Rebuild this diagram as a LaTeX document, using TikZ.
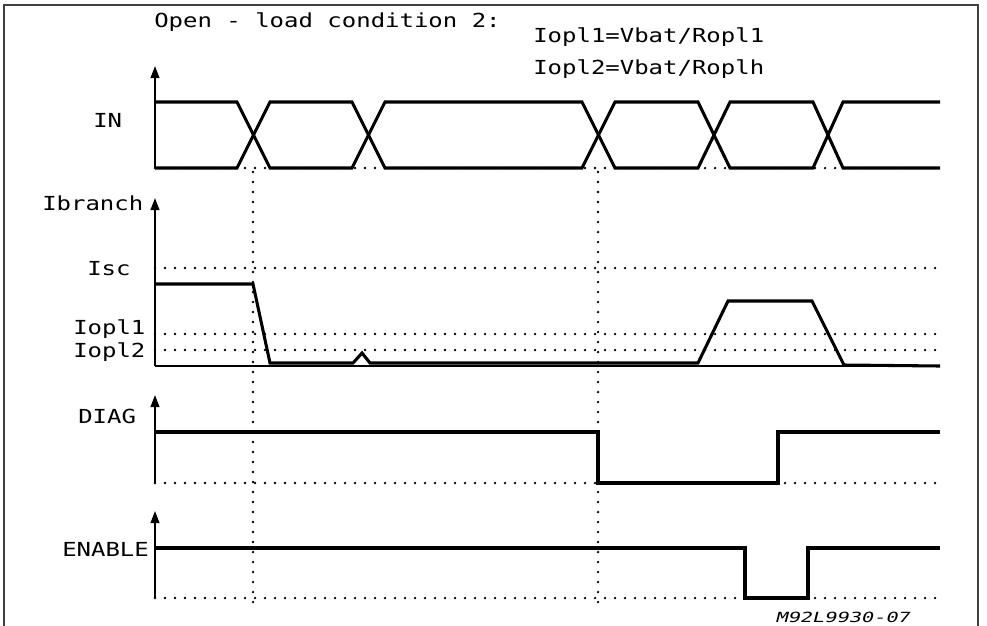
\documentclass[tikz,border=0pt]{standalone}
\usepackage{fontspec}
\newfontfamily\plotfont[FakeStretch=1.24]{DejaVu Sans Mono}
\newfontfamily\plotitfont[FakeStretch=1.45,FakeSlant=0.25]{DejaVu Sans Mono}
\usetikzlibrary{arrows.meta}
\tikzset{
  sig/.style={line width=2.3pt, line join=miter},
  axisline/.style={line width=1.4pt, -{Triangle[length=9pt,width=6.5pt]}},
  baseln/.style={line width=1.3pt},
  dotln/.style={line width=1.9pt, dash pattern=on 0pt off 7.5pt, line cap=round},
  lbl/.style={font=\plotfont\fontsize{14.5}{16}\selectfont, inner sep=0pt, anchor=base west},
  reflbl/.style={font=\plotitfont\fontsize{10.5}{12}\selectfont, inner sep=0pt, anchor=base west},
  frameln/.style={line width=1pt, draw=black!75}
}
\begin{document}
\begin{tikzpicture}[x=0.75pt,y=-0.75pt]
\useasboundingbox (0,0) rectangle (987,625);
% frame
\draw[frameln] (4,630) -- (4,5) -- (978,5) -- (978,630);

% texts
\node[lbl] (title) at (154,27) {Open - load condition 2:};
\node[lbl] (eq1) at (533,42) {Iopl1=Vbat/Ropl1};
\node[lbl] (eq2) at (533,74) {Iopl2=Vbat/Roplh};
\node[lbl] (in) at (93,127) {IN};
\node[lbl] (ibr) at (42,210) {Ibranch};
\node[lbl] (isc) at (87,275) {Isc};
\node[lbl] (iopl1) at (73,334) {Iopl1};
\node[lbl] (iopl2) at (73,357) {Iopl2};
\node[lbl] (diag) at (78,423) {DIAG};
\node[lbl] (enable) at (62,556) {ENABLE};
\node[reflbl] (ref) at (775,622) {M92L9930-07};

% vertical dotted markers
\draw[dotln] (253,172) -- (253,612);
\draw[dotln] (598,172) -- (598,612);

% IN
\draw[dotln] (155,168) -- (940,168);
\draw[axisline] (155,168) -- (155,66);
\draw[sig] (155,102) -- (237,102) -- (270,168) -- (352,168) -- (385,102) -- (582,102) -- (615,168) -- (698,168) -- (730,102) -- (813,102) -- (843,168) -- (940,168);
\draw[sig] (155,168) -- (237,168) -- (270,102) -- (352,102) -- (385,168) -- (582,168) -- (615,102) -- (698,102) -- (730,168) -- (813,168) -- (843,102) -- (940,102);

% Ibranch
\draw[dotln] (155,268) -- (940,268);
\draw[dotln] (155,334) -- (940,334);
\draw[dotln] (155,350) -- (940,350);
\draw[baseln] (155,366) -- (940,366);
\draw[axisline] (155,366) -- (155,198);
\draw[sig] (155,284) -- (253,284) -- (270,363) -- (353,363) -- (362,353) -- (370,363) -- (698,363) -- (728,301) -- (812,301) -- (844,365) -- (940,366);

% DIAG
\draw[dotln] (155,483) -- (940,483);
\draw[axisline] (155,483) -- (155,395);
\draw[sig] (155,432) -- (598,432) -- (598,483) -- (778,483) -- (778,432) -- (940,432);

% ENABLE
\draw[dotln] (155,598) -- (940,598);
\draw[axisline] (155,598) -- (155,511);
\draw[sig] (155,548) -- (745,548) -- (745,598) -- (808,598) -- (808,548) -- (940,548);
\end{tikzpicture}
\end{document}
